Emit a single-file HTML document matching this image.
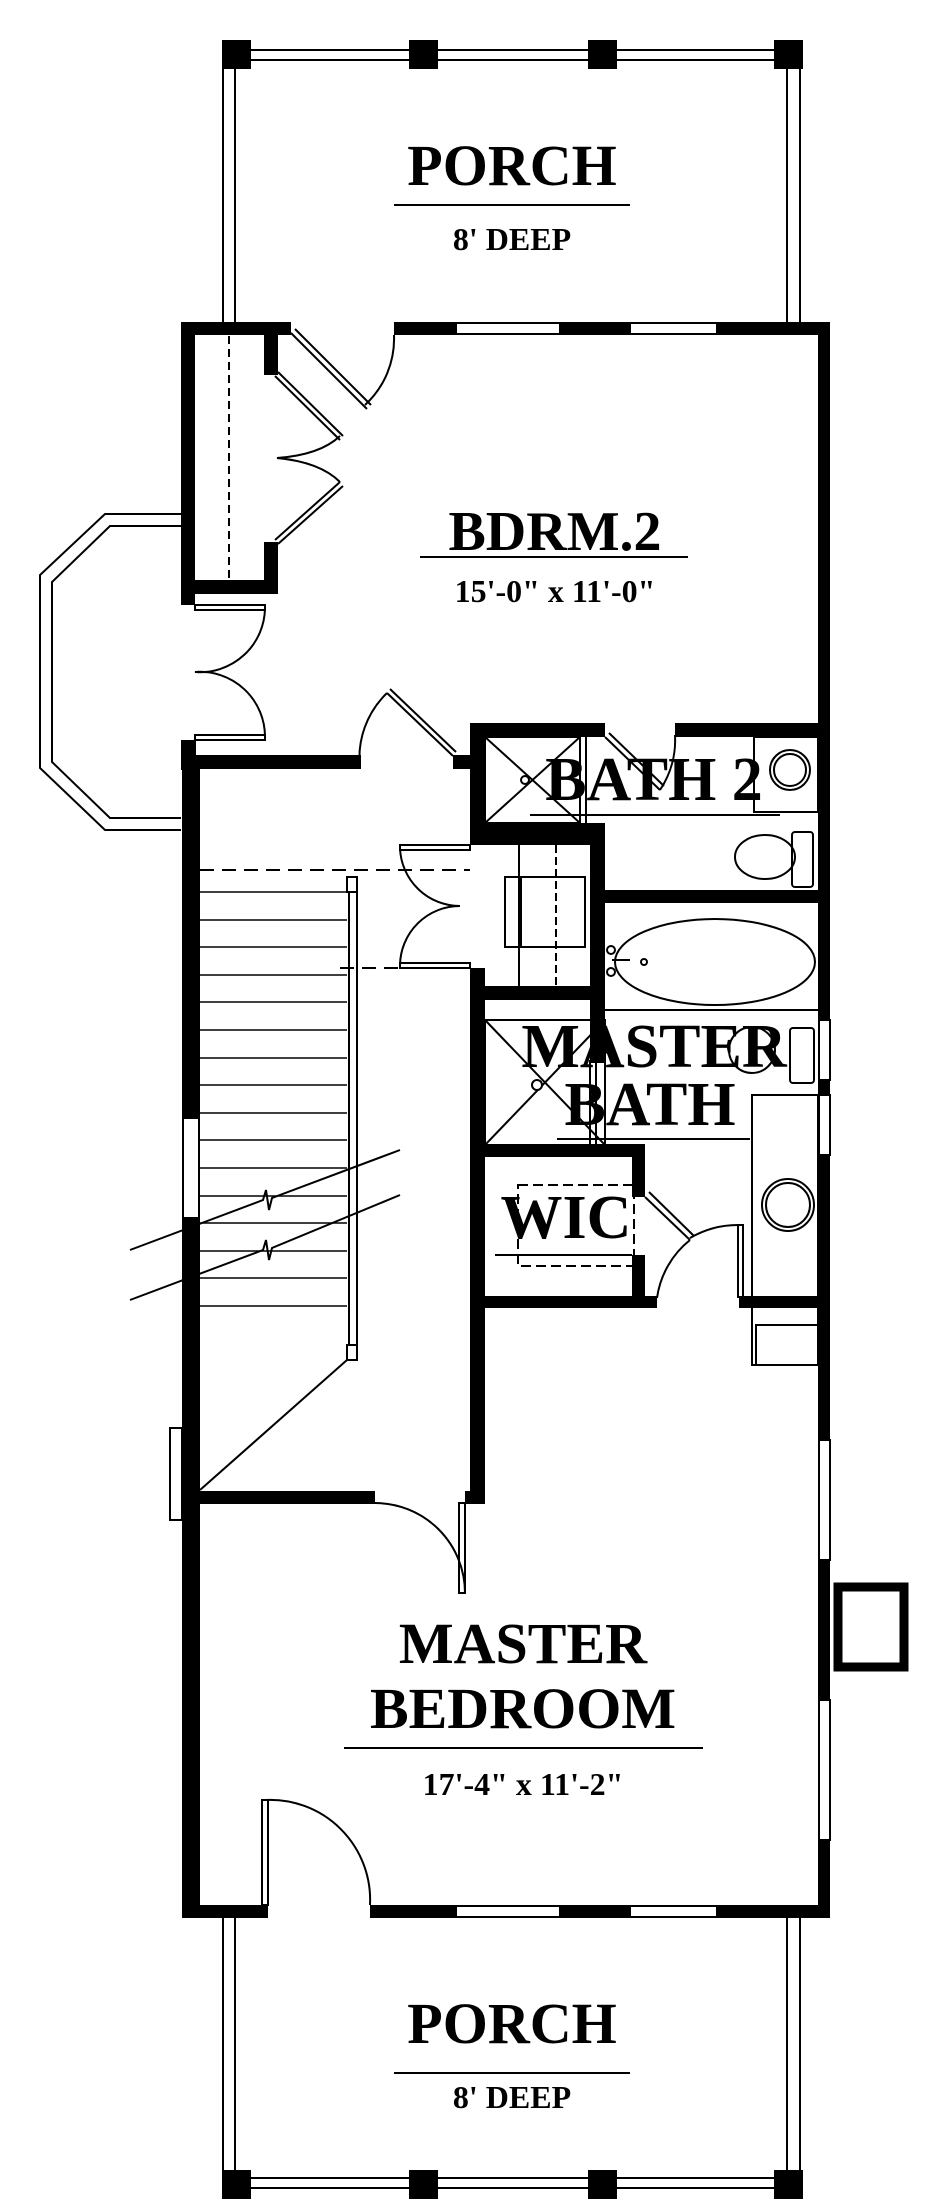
<!DOCTYPE html>
<html><head><meta charset="utf-8"><style>html,body{margin:0;padding:0;background:#fff}svg{display:block}text{font-family:"Liberation Serif",serif;text-anchor:middle;fill:#000;font-weight:bold}</style></head><body>
<svg width="932" height="2200" viewBox="0 0 932 2200" xmlns="http://www.w3.org/2000/svg">
<g fill="none" stroke="#000" stroke-width="2">
<line x1="222" y1="50" x2="803" y2="50"/><line x1="222" y1="60" x2="803" y2="60"/>
<line x1="223" y1="40" x2="223" y2="322"/><line x1="235" y1="40" x2="235" y2="322"/>
<line x1="787" y1="40" x2="787" y2="322"/><line x1="800" y1="40" x2="800" y2="322"/>
<line x1="222" y1="2178" x2="803" y2="2178"/><line x1="222" y1="2188" x2="803" y2="2188"/>
<line x1="223" y1="1918" x2="223" y2="2198"/><line x1="235" y1="1918" x2="235" y2="2198"/>
<line x1="787" y1="1918" x2="787" y2="2198"/><line x1="800" y1="1918" x2="800" y2="2198"/>
<rect x="456" y="323" width="104" height="11"/><rect x="630" y="323" width="87" height="11"/>
<rect x="456" y="1906" width="104" height="11"/><rect x="630" y="1906" width="87" height="11"/>
<rect x="183" y="1118" width="16" height="100"/>
<polyline points="181,514 105,514 40,575 40,768 105,830 181,830"/>
<polyline points="181,526 110,526 52,582 52,762 110,818 181,818"/>
<line x1="229" y1="336" x2="229" y2="580" stroke-dasharray="8,5"/>
<polyline points="291,333 367,409"/><polyline points="295,329 371,405"/>
<path d="M365,405 A90,90 0 0 0 394,335"/>
<polyline points="275,376 340,440"/><polyline points="278,372 343,436"/>
<polyline points="275,540 340,482"/><polyline points="278,544 343,486"/>
<path d="M340,436 Q320,455 277,458 Q320,462 340,482"/>
<rect x="195" y="605" width="70" height="5"/><rect x="195" y="735" width="70" height="5"/>
<path d="M265,608 A65,65 0 0 1 195,672 A65,65 0 0 1 265,737"/>
<path d="M360,768 A90,90 0 0 1 387,693"/>
<line x1="387" y1="693" x2="453" y2="756"/><line x1="390" y1="689" x2="456" y2="752"/>
<line x1="200" y1="870" x2="470" y2="870" stroke-dasharray="14,8"/>
<line x1="340" y1="968" x2="470" y2="968" stroke-dasharray="14,8"/>
<rect x="347" y="877" width="10" height="15"/><rect x="347" y="1345" width="10" height="15"/>
<line x1="349" y1="892" x2="349" y2="1345"/><line x1="357" y1="892" x2="357" y2="1345"/>
<g stroke-width="1.5">
<line x1="200" y1="892" x2="347" y2="892"/><line x1="200" y1="920" x2="347" y2="920"/><line x1="200" y1="947" x2="347" y2="947"/><line x1="200" y1="975" x2="347" y2="975"/><line x1="200" y1="1002" x2="347" y2="1002"/><line x1="200" y1="1030" x2="347" y2="1030"/><line x1="200" y1="1058" x2="347" y2="1058"/><line x1="200" y1="1085" x2="347" y2="1085"/><line x1="200" y1="1113" x2="347" y2="1113"/><line x1="200" y1="1140" x2="347" y2="1140"/><line x1="200" y1="1168" x2="347" y2="1168"/><line x1="200" y1="1196" x2="347" y2="1196"/><line x1="200" y1="1223" x2="347" y2="1223"/><line x1="200" y1="1251" x2="347" y2="1251"/><line x1="200" y1="1278" x2="347" y2="1278"/><line x1="200" y1="1306" x2="347" y2="1306"/>
</g>
<line x1="200" y1="1490" x2="347" y2="1360"/>
<polyline points="130,1250 263,1200 266,1190 269,1210 272,1198 400,1150"/>
<polyline points="130,1300 263,1250 266,1240 269,1260 272,1248 400,1195"/>
<rect x="400" y="845" width="70" height="5"/><rect x="400" y="963" width="70" height="5"/>
<path d="M400,848 A60,60 0 0 0 460,906 A60,60 0 0 0 400,965"/>
<rect x="505" y="877" width="80" height="70"/><line x1="521" y1="877" x2="521" y2="947"/>
<line x1="519" y1="845" x2="519" y2="986"/><line x1="556" y1="845" x2="556" y2="986" stroke-dasharray="8,4"/>
<rect x="485" y="737" width="95" height="86"/><line x1="485" y1="737" x2="580" y2="823"/><line x1="485" y1="823" x2="580" y2="737"/>
<circle cx="525" cy="780" r="4" fill="#fff"/>
<line x1="580" y1="737" x2="580" y2="823"/><line x1="586" y1="737" x2="586" y2="823"/>
<line x1="605" y1="737" x2="660" y2="790"/><line x1="609" y1="733" x2="664" y2="786"/>
<path d="M660,790 A90,90 0 0 0 675,735"/>
<line x1="530" y1="815" x2="780" y2="815"/>
<rect x="754" y="737" width="64" height="75"/><circle cx="790" cy="770" r="20"/><circle cx="790" cy="770" r="16"/>
<ellipse cx="765" cy="857" rx="30" ry="22"/><rect x="792" y="832" width="21" height="55" rx="3"/>
<ellipse cx="715" cy="962" rx="100" ry="43"/><circle cx="611" cy="950" r="4"/><circle cx="611" cy="972" r="4"/><line x1="612" y1="960" x2="630" y2="960"/><circle cx="644" cy="962" r="3"/>
<line x1="605" y1="1010" x2="818" y2="1010"/>
<rect x="485" y="1020" width="120" height="125"/><line x1="485" y1="1020" x2="605" y2="1145"/><line x1="485" y1="1145" x2="605" y2="1020"/>
<circle cx="537" cy="1085" r="5" fill="#fff"/>
<line x1="590" y1="1060" x2="590" y2="1145"/><line x1="596" y1="1060" x2="596" y2="1145"/>
<circle cx="752" cy="1050" r="23"/><rect x="790" y="1028" width="24" height="55" rx="3"/>
<line x1="557" y1="1139" x2="750" y2="1139"/>
<rect x="752" y="1095" width="66" height="270"/><rect x="756" y="1325" width="62" height="40"/>
<circle cx="788" cy="1205" r="26"/><circle cx="788" cy="1205" r="22"/>
<rect x="819" y="1020" width="11" height="60"/><rect x="819" y="1095" width="11" height="60"/>
<rect x="518" y="1185" width="116" height="81" stroke-dasharray="10,5"/>
<line x1="495" y1="1255" x2="632" y2="1255"/>
<line x1="645" y1="1197" x2="690" y2="1240"/><line x1="649" y1="1192" x2="694" y2="1236"/>
<path d="M690,1238 A95,95 0 0 1 740,1225"/><path d="M690,1240 A90,90 0 0 0 657,1298"/>
<rect x="738" y="1225" width="5" height="72"/>
<path d="M375,1503 A90,90 0 0 1 465,1593"/><rect x="459" y="1503" width="6" height="90"/>
<path d="M370,1905 A100,100 0 0 0 265,1800"/><rect x="262" y="1800" width="6" height="105"/>
<rect x="819" y="1440" width="11" height="120"/><rect x="819" y="1700" width="11" height="140"/>
<rect x="170" y="1428" width="12" height="92"/>
<rect x="838" y="1587" width="66" height="80" stroke-width="9"/>
<line x1="394" y1="205" x2="630" y2="205"/><line x1="420" y1="557" x2="688" y2="557"/>
<line x1="344" y1="1748" x2="703" y2="1748"/><line x1="394" y1="2073" x2="630" y2="2073"/>
</g>
<g fill="#000">
<rect x="222" y="40" width="29" height="29"/><rect x="409" y="40" width="29" height="29"/><rect x="588" y="40" width="29" height="29"/><rect x="774" y="40" width="29" height="29"/>
<rect x="222" y="2170" width="29" height="29"/><rect x="409" y="2170" width="29" height="29"/><rect x="588" y="2170" width="29" height="29"/><rect x="774" y="2170" width="29" height="29"/>
<rect x="181" y="322" width="110" height="13"/><rect x="394" y="322" width="62" height="13"/><rect x="560" y="322" width="70" height="13"/><rect x="717" y="322" width="113" height="13"/>
<rect x="818" y="322" width="12" height="698"/><rect x="818" y="1080" width="12" height="15"/><rect x="818" y="1155" width="12" height="285"/><rect x="818" y="1560" width="12" height="140"/><rect x="818" y="1840" width="12" height="78"/>
<rect x="181" y="322" width="14" height="283"/><rect x="264" y="335" width="14" height="40"/><rect x="264" y="542" width="14" height="52"/><rect x="181" y="580" width="97" height="14"/>
<rect x="181" y="740" width="15" height="30"/>
<rect x="181" y="755" width="180" height="14"/><rect x="182" y="755" width="18" height="363"/><rect x="182" y="1218" width="18" height="700"/>
<rect x="453" y="755" width="32" height="14"/>
<rect x="470" y="723" width="15" height="122"/><rect x="470" y="968" width="15" height="340"/>
<rect x="200" y="1491" width="175" height="13"/><rect x="465" y="1491" width="20" height="13"/><rect x="470" y="1300" width="15" height="204"/>
<rect x="470" y="723" width="135" height="14"/><rect x="675" y="723" width="155" height="14"/>
<rect x="470" y="823" width="135" height="22"/><rect x="590" y="823" width="15" height="240"/>
<rect x="470" y="986" width="135" height="14"/><rect x="590" y="890" width="240" height="13"/>
<rect x="470" y="1144" width="175" height="13"/><rect x="632" y="1144" width="13" height="53"/><rect x="632" y="1255" width="13" height="50"/>
<rect x="470" y="1296" width="187" height="12"/><rect x="739" y="1296" width="91" height="12"/>
<rect x="182" y="1905" width="86" height="13"/><rect x="370" y="1905" width="86" height="13"/><rect x="560" y="1905" width="70" height="13"/><rect x="717" y="1905" width="113" height="13"/>
</g>
<g>
<text x="512" y="185" font-size="58">PORCH</text>
<text x="512" y="250" font-size="32">8' DEEP</text>
<text x="555" y="550" font-size="56">BDRM.2</text>
<text x="555" y="602" font-size="32">15'-0" x 11'-0"</text>
<text x="654" y="800" font-size="62">BATH 2</text>
<text x="654" y="1067" font-size="62">MASTER</text>
<text x="650" y="1125" font-size="62">BATH</text>
<text x="566" y="1238" font-size="62">WIC</text>
<text x="523" y="1663" font-size="58">MASTER</text>
<text x="523" y="1728" font-size="58">BEDROOM</text>
<text x="523" y="1795" font-size="32">17'-4" x 11'-2"</text>
<text x="512" y="2043" font-size="58">PORCH</text>
<text x="512" y="2108" font-size="32">8' DEEP</text>
</g>
</svg>
</body></html>
